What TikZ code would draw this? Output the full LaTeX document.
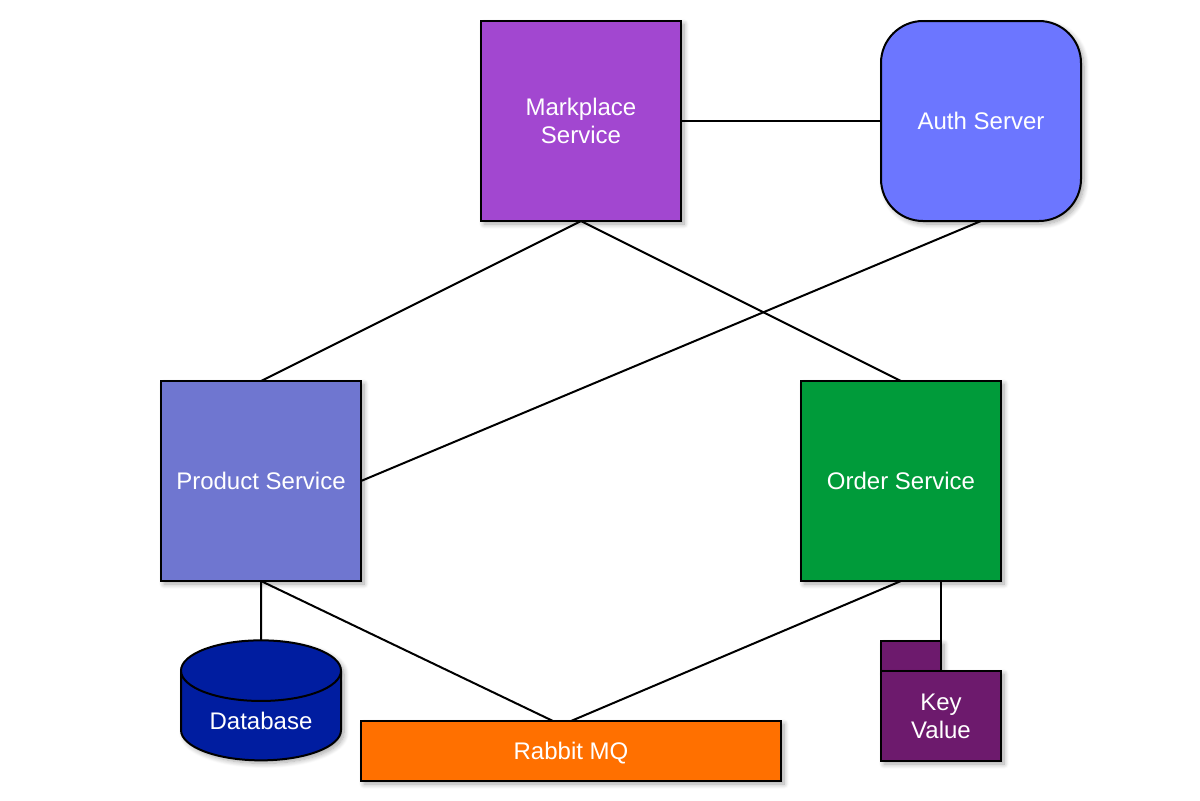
\documentclass[tikz,border=0pt]{standalone}
\usepackage{fontspec}
\setmainfont{Liberation Sans}
\usetikzlibrary{shapes.geometric, shadows.blur}
\tikzset{
  shade/.style={blur shadow={shadow xshift=1.5pt, shadow yshift=-1.5pt, shadow blur steps=8, shadow blur radius=2.5pt, shadow opacity=35}},
  base/.style={draw=black, line width=1pt, inner sep=0pt, outer sep=0pt, text=white, align=center, font=\fontsize{12}{14}\selectfont, shade},
  service/.style={base, rectangle, minimum width=100pt, minimum height=100pt},
  link/.style={black, line width=1pt}
}
\definecolor{markplacecol}{HTML}{A247D0}
\definecolor{authcol}{HTML}{6C76FF}
\definecolor{productcol}{HTML}{6F76D0}
\definecolor{ordercol}{HTML}{009B3A}
\definecolor{databasecol}{HTML}{001DA0}
\definecolor{rabbitcol}{HTML}{FF7000}
\definecolor{keycol}{HTML}{6D1A6D}
\begin{document}
\begin{tikzpicture}[x=0.5pt, y=-0.5pt]
\useasboundingbox (0,0) rectangle (1200,800);
% services
\node[service, fill=markplacecol] (markplace) at (581,121) {Markplace\\Service};
\node[service, fill=authcol, rounded corners=21pt] (auth) at (981,121) {Auth Server};
\node[service, fill=productcol] (product) at (261,481) {Product Service};
\node[service, fill=ordercol] (order) at (901,481) {Order Service};
% storage
\node[base, cylinder, shape border rotate=90, shape aspect=0.59, minimum width=80pt, minimum height=60pt, text height=13.6pt, fill=databasecol, cylinder uses custom fill, cylinder body fill=databasecol, cylinder end fill=databasecol] (database) at (261,716) {Database};
\node[base, rectangle, minimum width=210pt, minimum height=30pt, text height=11pt, fill=rabbitcol] (rabbit) at (571,751) {Rabbit MQ};
\node[base, rectangle, minimum width=30pt, minimum height=15pt, fill=keycol] (keytab) at (911,656) {};
\node[base, rectangle, minimum width=60pt, minimum height=45pt, fill=keycol] (keyvalue) at (941,716) {Key\\Value};
\coordinate (rabbitleft) at (553,721);
\coordinate (rabbitright) at (571,721);
% links
\draw[link] (markplace.east)--(auth.west);
\draw[link] (markplace.south)--(product.north);
\draw[link] (markplace.south)--(order.north);
\draw[link] (auth.south)--(product.east);
\draw[link] (product.south)--(database.north);
\draw[link] (product.south)--(rabbitleft);
\draw[link] (order.south)--(rabbitright);
\draw[link] (keytab.north east |- order.south)--(keytab.north east);
\end{tikzpicture}
\end{document}
